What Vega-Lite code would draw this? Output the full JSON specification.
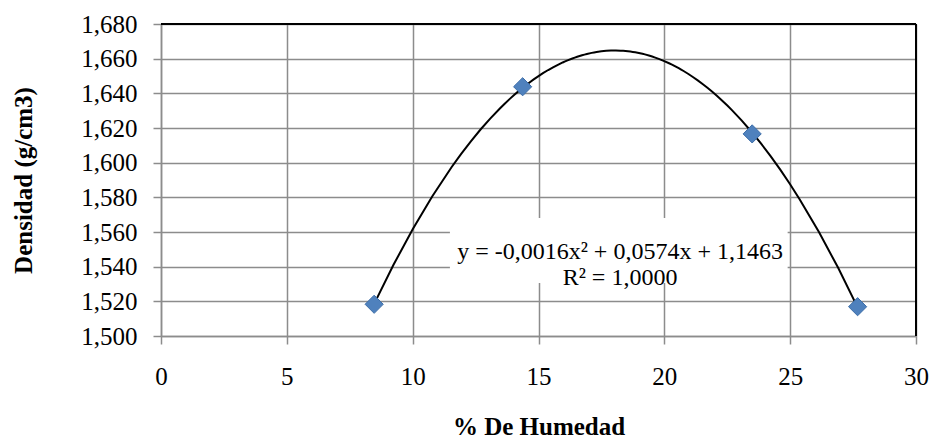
{
  "$schema": "https://vega.github.io/schema/vega-lite/v6.json",
  "autosize": "none",
  "width": 755,
  "height": 312,
  "padding": {"left": 161, "top": 24, "right": 16, "bottom": 103},
  "background": "white",
  "config": {
    "view": {"stroke": null},
    "font": "Liberation Serif",
    "axis": {
      "labelFont": "Liberation Serif",
      "titleFont": "Liberation Serif",
      "labelFontSize": 25,
      "titleFontSize": 25,
      "labelColor": "black",
      "titleColor": "black",
      "titleFontWeight": "bold",
      "domainColor": "#8c8c8c",
      "domainWidth": 1.5,
      "tickColor": "#8c8c8c",
      "tickWidth": 1.5,
      "tickSize": 8,
      "gridColor": "#8c8c8c",
      "gridWidth": 1.5,
      "labelOverlap": false
    }
  },
  "data": {
    "values": [
      {"humedad": 8.47, "densidad": 1.5183},
      {"humedad": 14.37, "densidad": 1.6438},
      {"humedad": 23.49, "densidad": 1.6166},
      {"humedad": 27.68, "densidad": 1.5169}
    ]
  },
  "layer": [
    {
      "mark": {"type": "line", "color": "black", "strokeWidth": 2},
      "transform": [
        {"regression": "densidad", "on": "humedad", "method": "poly", "order": 2, "extent": [8.47, 27.68]}
      ],
      "encoding": {
        "x": {
          "field": "humedad", "type": "quantitative",
          "scale": {"domain": [0, 30], "nice": false, "zero": false},
          "axis": {
            "title": "% De Humedad",
            "values": [0, 5, 10, 15, 20, 25, 30],
            "tickCount": 20,
            "labelPadding": 20,
            "labelFlush": false,
            "labelOverlap": false,
            "titleX": 377.5,
            "titleY": 90,
            "titleBaseline": "middle",
            "titleAlign": "center"
          }
        },
        "y": {
          "field": "densidad", "type": "quantitative",
          "scale": {"domain": [1.5, 1.68], "nice": false, "zero": false},
          "axis": {
            "title": "Densidad (g/cm3)",
            "values": [1.5, 1.52, 1.54, 1.56, 1.58, 1.6, 1.62, 1.64, 1.66, 1.68],
            "tickCount": 20,
            "labelExpr": "replace(format(datum.value, '.3f'), '.', ',')",
            "labelPadding": 16,
            "labelFlush": false,
            "labelOverlap": false,
            "labelBound": false,
            "titleX": -138,
            "titleY": 156,
            "titleAngle": 270,
            "titleBaseline": "middle",
            "titleAlign": "center"
          }
        }
      }
    },
    {
      "data": {"values": [{}]},
      "mark": {"type": "rule", "color": "black", "strokeWidth": 2},
      "encoding": {
        "x": {"datum": 0, "type": "quantitative"},
        "x2": {"datum": 30},
        "y": {"datum": 1.68, "type": "quantitative"}
      }
    },
    {
      "data": {"values": [{}]},
      "mark": {"type": "rule", "color": "black", "strokeWidth": 2},
      "encoding": {
        "x": {"datum": 30, "type": "quantitative"},
        "y": {"datum": 1.5, "type": "quantitative"},
        "y2": {"datum": 1.68}
      }
    },
    {
      "data": {"values": [{}]},
      "mark": {"type": "rect", "fill": "white", "stroke": null},
      "encoding": {
        "x": {"datum": 11.48, "type": "quantitative"},
        "x2": {"datum": 24.9},
        "y": {"datum": 1.5681, "type": "quantitative"},
        "y2": {"datum": 1.5306}
      }
    },
    {
      "data": {"values": [{}]},
      "mark": {
        "type": "text",
        "font": "Liberation Serif",
        "fontSize": 24,
        "fontWeight": "normal",
        "color": "black",
        "align": "center",
        "baseline": "middle",
        "lineHeight": 26,
        "text": ["y = -0,0016x² + 0,0574x + 1,1463", "R² = 1,0000"]
      },
      "encoding": {
        "x": {"datum": 18.24, "type": "quantitative"},
        "y": {"datum": 1.5485, "type": "quantitative"}
      }
    },
    {
      "mark": {"type": "point", "shape": "diamond", "filled": true, "size": 330, "fill": "#4F81BD", "stroke": "#3C6DA8", "strokeWidth": 1, "opacity": 1},
      "encoding": {
        "x": {"field": "humedad", "type": "quantitative"},
        "y": {"field": "densidad", "type": "quantitative"}
      }
    }
  ]
}
